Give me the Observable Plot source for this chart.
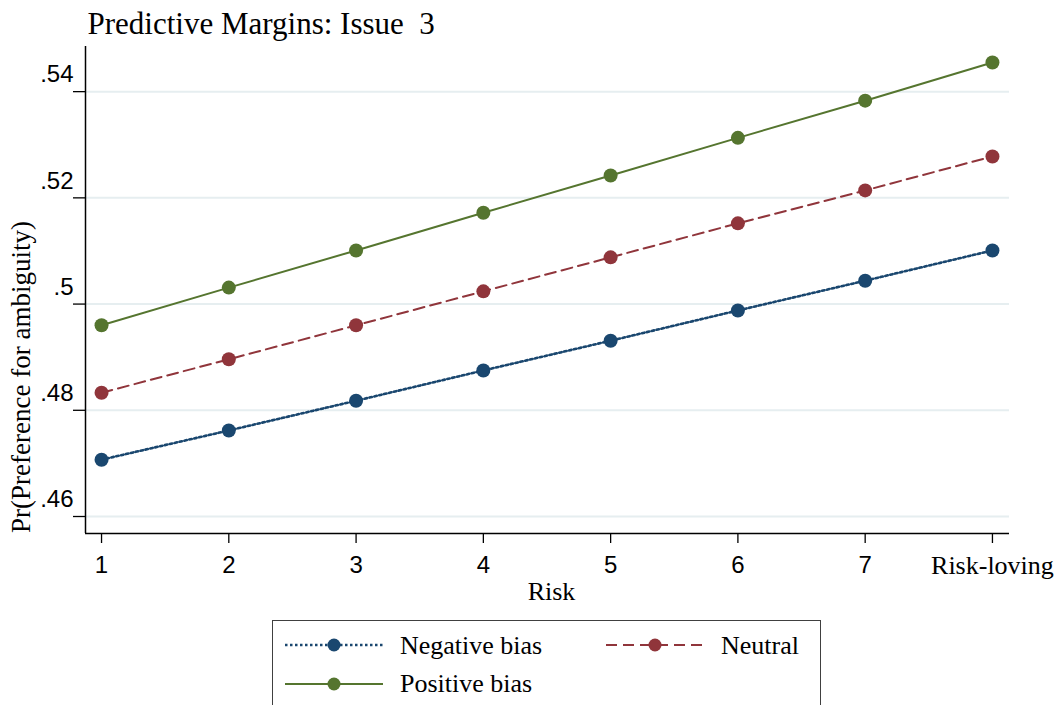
<!DOCTYPE html>
<html><head><meta charset="utf-8">
<script src="https://cdn.jsdelivr.net/npm/d3@7"></script>
<script src="https://cdn.jsdelivr.net/npm/@observablehq/plot@0.6"></script>
<style>
body{margin:0;background:#fff;}
#wrap{position:relative;width:1059px;height:705px;overflow:hidden;background:#fff;}
#wrap svg text{white-space:pre;}
.leg-box{position:absolute;left:272px;top:620px;width:547px;height:120px;border:1.5px solid #404040;}
.leg-text{position:absolute;font-family:"Liberation Serif",serif;font-size:26px;line-height:26px;white-space:pre;color:#000;}
.leg-sw{position:absolute;}
</style></head><body><div id="wrap"></div><script>
// ---- data ----
const riskLevels = [1, 2, 3, 4, 5, 6, 7, 8];
const xTickLabels = ["1", "2", "3", "4", "5", "6", "7", "Risk-loving"];
const negativeBias = [0.4707, 0.4762, 0.4818, 0.4875, 0.4931, 0.4988, 0.5044, 0.5101];
const neutral      = [0.4833, 0.4896, 0.4960, 0.5024, 0.5088, 0.5152, 0.5214, 0.5278];
const positiveBias = [0.4960, 0.5031, 0.5101, 0.5172, 0.5242, 0.5313, 0.5383, 0.5455];
const yTicks = [0.46, 0.48, 0.50, 0.52, 0.54];
const seriesNames = ["Negative bias", "Neutral", "Positive bias"];
const titleText = "Predictive Margins: Issue  3";
const xTitle = "Risk";
const yTitle = "Pr(Preference for ambiguity)";

// ---- styles ----
const colors = ["#1a476f", "#90353b", "#55752f"];
const dashes = ["2.5,2.5", "11,6", null];
const widths = [2.6, 2, 2];
const gridColor = "#e6eef0";
const sans = "Liberation Sans";
const serif = "Liberation Serif";

const rows = riskLevels.map((r, i) => ({risk: r, s0: negativeBias[i], s1: neutral[i], s2: positiveBias[i]}));
const xDomain = [0.874, 8.134];
const yDomain = [0.4568, 0.5485];
const fmtY = d => String(+d.toFixed(2)).replace(/^0/, "");

const seriesMarks = [];
[0, 1, 2].forEach(k => {
  seriesMarks.push(Plot.line(rows, {x: "risk", y: "s" + k, stroke: colors[k], strokeWidth: widths[k], strokeDasharray: dashes[k] || undefined}));
});
[0, 1, 2].forEach(k => {
  seriesMarks.push(Plot.dot(rows, {x: "risk", y: "s" + k, r: 7, fill: colors[k], stroke: "none"}));
});

const chart = Plot.plot({
  width: 1059, height: 610,
  marginLeft: 85, marginRight: 50, marginTop: 46, marginBottom: 77,
  style: {background: "transparent", fontFamily: sans, color: "#000", overflow: "visible"},
  x: {domain: xDomain, label: null},
  y: {domain: yDomain, label: null},
  marks: [
    Plot.gridY(yTicks, {stroke: gridColor, strokeOpacity: 1, strokeWidth: 2}),
    ...seriesMarks,
    Plot.ruleX([xDomain[0]], {stroke: "#000", strokeWidth: 1.5}),
    Plot.ruleY([yDomain[0]], {stroke: "#000", strokeWidth: 1.5}),
    // y ticks (no text)
    Plot.axisY(yTicks, {tickSize: 12, tickFormat: () => "", label: null, strokeWidth: 1.3}),
    // y labels, raised above their ticks as in the original
    Plot.axisY(yTicks, {tickSize: 0, tickPadding: 12, dy: -17, tickFormat: fmtY, fontSize: 24, fontFamily: sans, label: null}),
    Plot.axisX(riskLevels.slice(0, 7), {tickSize: 10, tickPadding: 12, tickFormat: d => xTickLabels[riskLevels.indexOf(d)], fontSize: 24, fontFamily: sans, label: null, strokeWidth: 1.3}),
    Plot.axisX(riskLevels.slice(7), {tickSize: 10, tickPadding: 12, tickFormat: d => xTickLabels[riskLevels.indexOf(d)], fontSize: 26, fontFamily: serif, label: null, strokeWidth: 1.3}),
    Plot.text([xTitle], {frameAnchor: "bottom", textAnchor: "middle", lineAnchor: "middle", dx: 4, dy: 58, fontSize: 26, fontFamily: serif}),
    Plot.text([yTitle], {frameAnchor: "left", textAnchor: "middle", lineAnchor: "middle", rotate: -90, dx: -64, dy: 87, fontSize: 27, fontFamily: serif}),
    Plot.text([titleText], {frameAnchor: "top-left", textAnchor: "start", lineAnchor: "middle", dx: 2, dy: -22.5, fontSize: 31, fontFamily: serif})
  ]
});
chart.style.position = "absolute";
chart.style.left = "0px";
chart.style.top = "0px";
const wrap = document.getElementById("wrap");
wrap.appendChild(chart);

// ---- legend (HTML below the plot area) ----
const box = document.createElement("div");
box.className = "leg-box";
wrap.appendChild(box);
const legPos = [
  {sx: 284, cy: 645, tx: 400, base: 655},
  {sx: 605, cy: 645, tx: 721, base: 655},
  {sx: 284, cy: 684, tx: 400, base: 692.5}
];
seriesNames.forEach((name, k) => {
  const p = legPos[k];
  const sw = document.createElementNS("http://www.w3.org/2000/svg", "svg");
  sw.setAttribute("width", 100); sw.setAttribute("height", 16);
  sw.setAttribute("class", "leg-sw");
  sw.style.left = p.sx + "px"; sw.style.top = (p.cy - 8) + "px";
  const ln = document.createElementNS("http://www.w3.org/2000/svg", "line");
  ln.setAttribute("x1", 1); ln.setAttribute("x2", 99); ln.setAttribute("y1", 8); ln.setAttribute("y2", 8);
  ln.setAttribute("stroke", colors[k]); ln.setAttribute("stroke-width", widths[k]);
  if (dashes[k]) ln.setAttribute("stroke-dasharray", dashes[k]);
  sw.appendChild(ln);
  const c = document.createElementNS("http://www.w3.org/2000/svg", "circle");
  c.setAttribute("cx", 50); c.setAttribute("cy", 8); c.setAttribute("r", 6.5); c.setAttribute("fill", colors[k]);
  sw.appendChild(c);
  wrap.appendChild(sw);
  const t = document.createElement("div");
  t.className = "leg-text";
  t.textContent = name;
  t.style.left = p.tx + "px";
  t.style.top = (p.base - 21.8) + "px";
  wrap.appendChild(t);
});
</script></body></html>
